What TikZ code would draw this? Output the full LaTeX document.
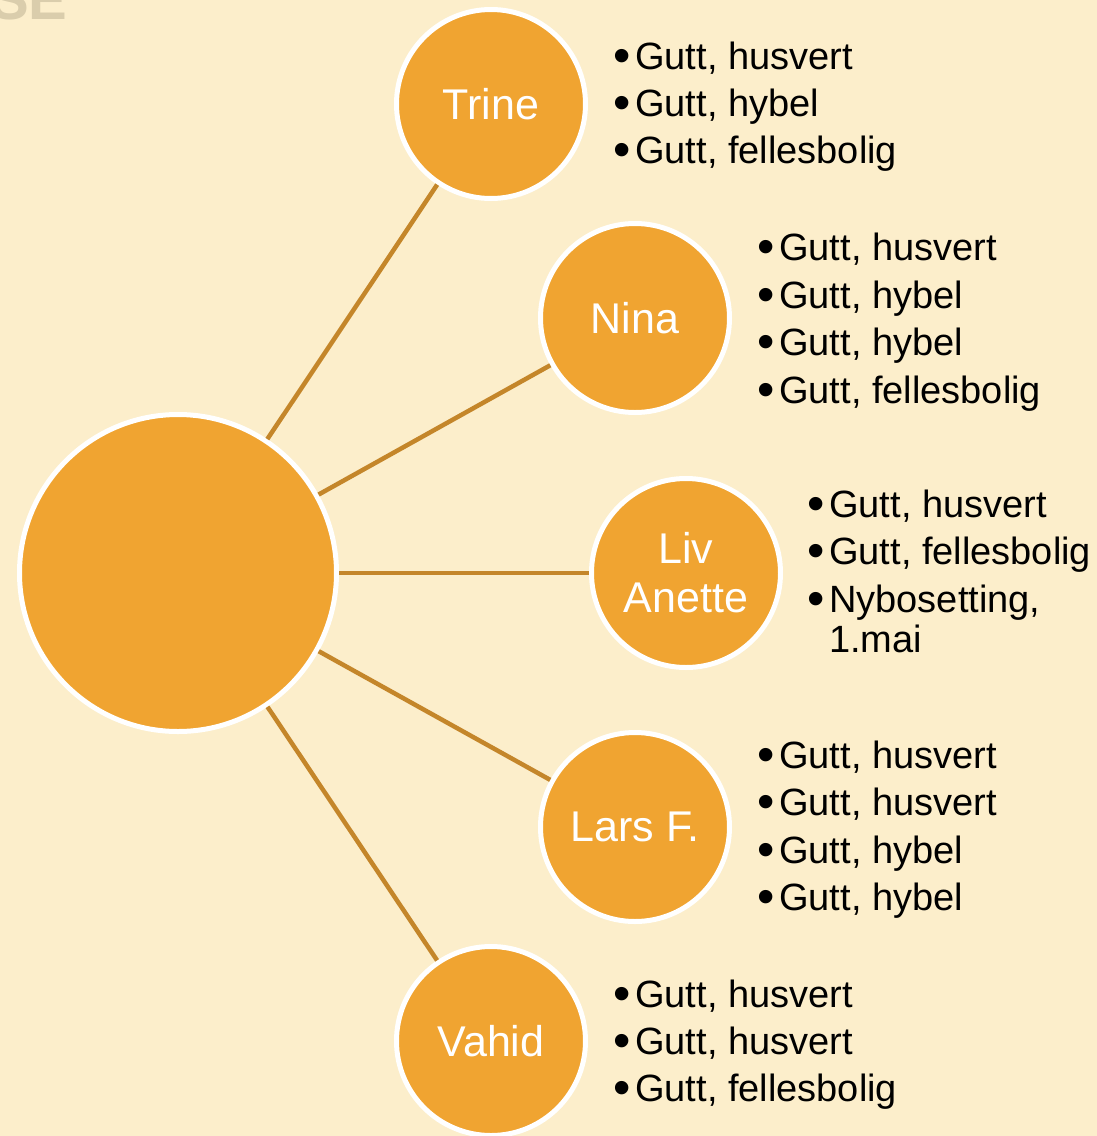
\documentclass[tikz,border=0pt]{standalone}
\usepackage{fontspec}
\setmainfont{Liberation Sans}
\definecolor{bgc}{RGB}{252,238,203}
\definecolor{orc}{RGB}{240,164,49}
\definecolor{lnc}{RGB}{196,134,42}
\definecolor{wmc}{RGB}{218,205,172}
\tikzset{
  hub/.style={circle,fill=orc,draw=white,line width=5pt,minimum size=317pt,inner sep=0pt},
  person/.style={circle,fill=orc,draw=white,line width=5pt,minimum size=189pt,inner sep=0pt,
     text=white,align=center,font=\fontsize{43}{49}\selectfont},
  conn/.style={draw=lnc,line width=4.5pt},
  item/.style={anchor=base west,inner sep=0pt,text=black,font=\fontsize{38}{40}\selectfont},
}
\newcommand{\bul}{\makebox[22pt][l]{\raisebox{-3.5pt}{\scalebox{1.3}{•}}}}
\begin{document}
\begin{tikzpicture}[x=1pt,y=-1pt]
\useasboundingbox[fill=bgc] (0,0) rectangle (1097,1136);
\node[anchor=base west,inner sep=0pt,text=wmc,font=\bfseries\fontsize{58}{58}\selectfont] (wm) at (-10,19) {SE};
\node[hub] (c) at (178,573) {};
\node[person] (trine) at (491,104) {Trine};
\node[person] (nina) at (635,318) {Nina};
\node[person] (liv) at (686,573) {Liv\\Anette};
\node[person] (lars) at (635,827) {Lars F.};
\node[person] (vahid) at (491,1041) {Vahid};
\foreach \n in {trine,nina,liv,lars,vahid} \draw[conn] (c) -- (\n);
% Trine
\node[item] (t1) at (613,69) {\bul Gutt, husvert};
\node[item] (t2) at (613,116) {\bul Gutt, hybel};
\node[item] (t3) at (613,163) {\bul Gutt, fellesbolig};
% Nina
\node[item] (n1) at (757,260) {\bul Gutt, husvert};
\node[item] (n2) at (757,308) {\bul Gutt, hybel};
\node[item] (n3) at (757,355) {\bul Gutt, hybel};
\node[item] (n4) at (757,403) {\bul Gutt, fellesbolig};
% Liv Anette
\node[item] (l1) at (807,517) {\bul Gutt, husvert};
\node[item] (l2) at (807,564) {\bul Gutt, fellesbolig};
\node[item] (l3) at (807,612) {\bul Nybosetting,};
\node[item] (l4) at (807,652) {\hspace{22pt}1.mai};
% Lars F.
\node[item] (f1) at (757,768) {\bul Gutt, husvert};
\node[item] (f2) at (757,815) {\bul Gutt, husvert};
\node[item] (f3) at (757,863) {\bul Gutt, hybel};
\node[item] (f4) at (757,910) {\bul Gutt, hybel};
% Vahid
\node[item] (v1) at (613,1007) {\bul Gutt, husvert};
\node[item] (v2) at (613,1054) {\bul Gutt, husvert};
\node[item] (v3) at (613,1101) {\bul Gutt, fellesbolig};
\end{tikzpicture}
\end{document}
